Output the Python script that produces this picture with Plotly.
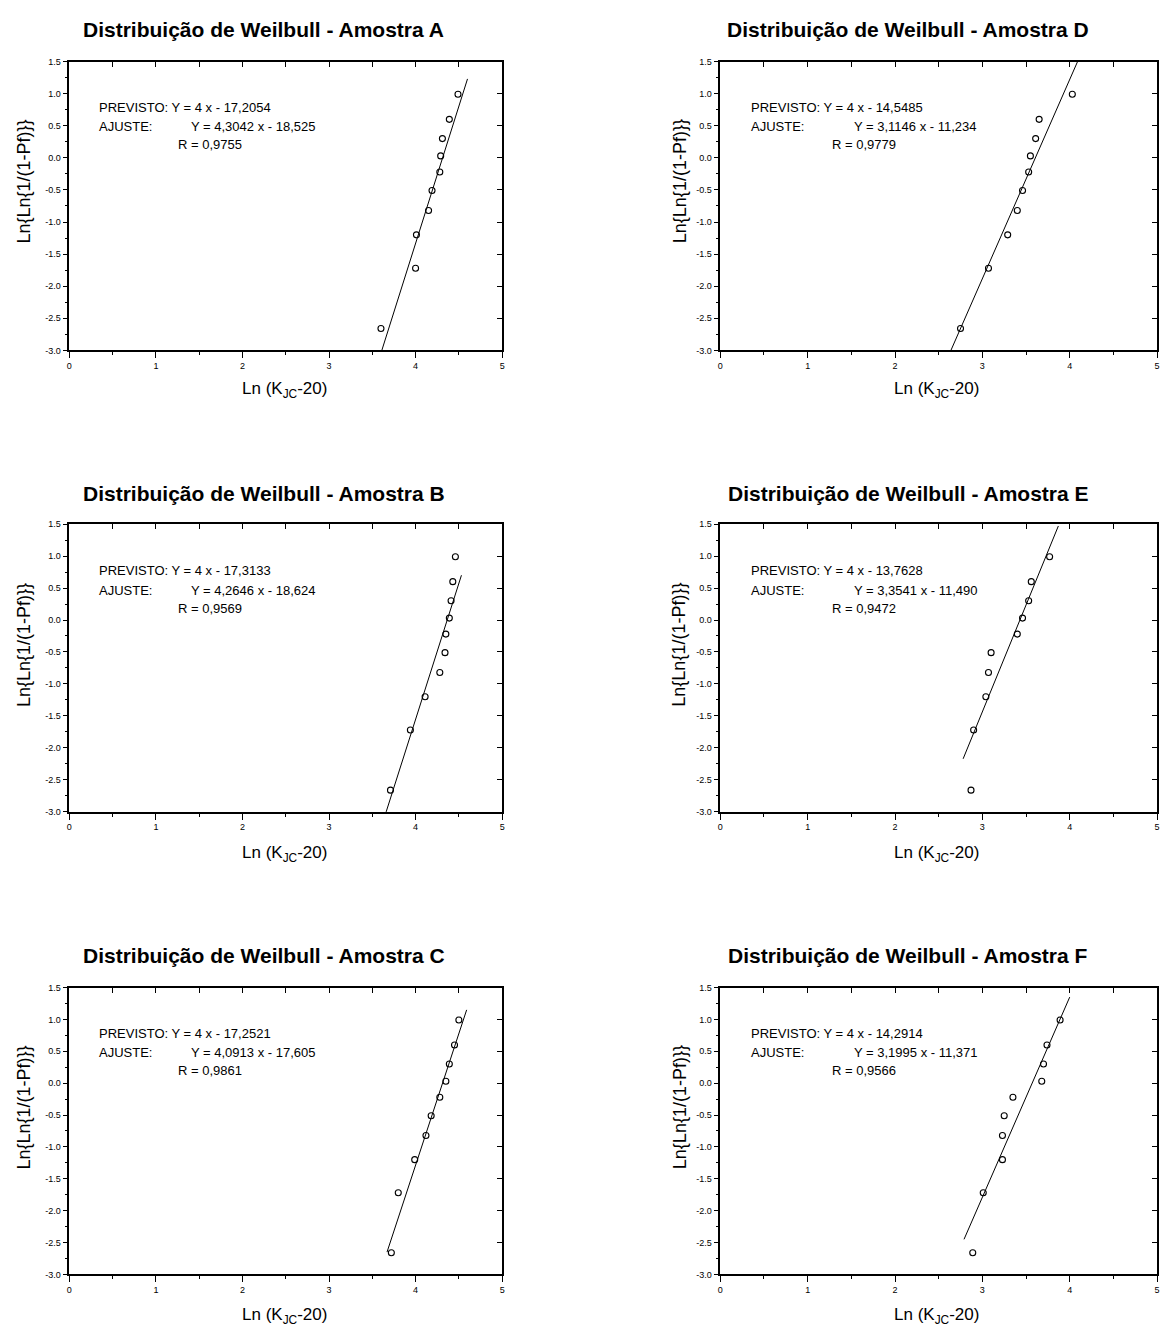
import plotly.graph_objects as go

# ---------------- data ----------------
samples = ["A", "B", "C", "D", "E", "F"]

# y values of the ranked points, Ln{Ln{1/(1-Pf)}}
y_rank = [-2.66, -1.72, -1.20, -0.82, -0.51, -0.22, 0.03, 0.30, 0.60, 0.99]

x_A = [3.60, 4.00, 4.01, 4.15, 4.19, 4.28, 4.29, 4.31, 4.39, 4.49]
x_B = [3.71, 3.94, 4.11, 4.28, 4.34, 4.35, 4.39, 4.41, 4.43, 4.46]
x_C = [3.72, 3.80, 3.99, 4.12, 4.18, 4.28, 4.35, 4.39, 4.45, 4.50]
x_D = [2.75, 3.07, 3.29, 3.40, 3.46, 3.53, 3.55, 3.61, 3.65, 4.03]
x_E = [2.87, 2.90, 3.04, 3.07, 3.10, 3.40, 3.46, 3.53, 3.56, 3.77]
x_F = [2.89, 3.01, 3.23, 3.23, 3.25, 3.35, 3.68, 3.70, 3.74, 3.89]

# fitted line end points
fit_x_A, fit_y_A = [3.61, 4.60], [-3.00, 1.23]
fit_x_B, fit_y_B = [3.66, 4.53], [-3.00, 0.70]
fit_x_C, fit_y_C = [3.67, 4.59], [-2.65, 1.15]
fit_x_D, fit_y_D = [2.64, 4.09], [-3.00, 1.50]
fit_x_E, fit_y_E = [2.78, 3.87], [-2.17, 1.47]
fit_x_F, fit_y_F = [2.79, 4.00], [-2.45, 1.35]

previsto = ["Y = 4 x - 17,2054", "Y = 4 x - 17,3133", "Y = 4 x - 17,2521",
            "Y = 4 x - 14,5485", "Y = 4 x - 13,7628", "Y = 4 x - 14,2914"]
ajuste = ["Y = 4,3042 x - 18,525", "Y = 4,2646 x - 18,624", "Y = 4,0913 x - 17,605",
          "Y = 3,1146 x - 11,234", "Y = 3,3541 x - 11,490", "Y = 3,1995 x - 11,371"]
r_vals = ["R = 0,9755", "R = 0,9569", "R = 0,9861",
          "R = 0,9779", "R = 0,9472", "R = 0,9566"]

x_tickvals = [0, 1, 2, 3, 4, 5]
x_ticktext = ["0", "1", "2", "3", "4", "5"]
y_tickvals = [-3.0, -2.5, -2.0, -1.5, -1.0, -0.5, 0.0, 0.5, 1.0, 1.5]
y_ticktext = ["-3.0", "-2.5", "-2.0", "-1.5", "-1.0", "-0.5", "0.0", "0.5", "1.0", "1.5"]

title_fmt = "Distribuição de Weilbull - Amostra {}"
x_title = "Ln (K<sub>JC</sub>-20)"
y_title = "Ln{Ln{1/(1-Pf)}}"

xs = [x_A, x_B, x_C, x_D, x_E, x_F]
fxs = [fit_x_A, fit_x_B, fit_x_C, fit_x_D, fit_x_E, fit_x_F]
fys = [fit_y_A, fit_y_B, fit_y_C, fit_y_D, fit_y_E, fit_y_F]

# ---------------- layout geometry (pixels) ----------------
W, H = 1172, 1330
col_px = [(66.7, 501.7), (721.0, 1160.0)]
row_px = [(57.0, 348.0), (523.0, 813.0), (990.0, 1279.0)]
row_off = [0, 467, 933]
panel_pos = [(0, 0), (0, 1), (0, 2), (1, 0), (1, 1), (1, 2)]  # (col,row)

FONT = "Liberation Sans, Arial, sans-serif"


def px_x(p):
    return p / W


def px_y(p):
    return 1 - p / H


fig = go.Figure()
layout = dict(width=W, height=H, margin=dict(l=0, r=0, t=0, b=0),
              paper_bgcolor="white", plot_bgcolor="white", showlegend=False,
              font=dict(family=FONT, color="black"))
annotations = []

for i, s in enumerate(samples):
    n = i + 1
    c, r = panel_pos[i]
    xk = "x" if n == 1 else f"x{n}"
    yk = "y" if n == 1 else f"y{n}"
    xo, yo = f"x{n + 6}", f"y{n + 6}"

    fig.add_trace(go.Scatter(x=fxs[i], y=fys[i], mode="lines",
                             line=dict(color="black", width=1),
                             xaxis=xk, yaxis=yk, hoverinfo="skip"))
    fig.add_trace(go.Scatter(x=xs[i], y=y_rank, mode="markers",
                             marker=dict(symbol="circle-open", size=6, color="black",
                                         line=dict(width=1.1, color="black")),
                             xaxis=xk, yaxis=yk))
    fig.add_trace(go.Scatter(x=[None], y=[None], mode="markers", xaxis=xo, yaxis=yo,
                             hoverinfo="skip"))

    x0, x1 = col_px[c]
    y0, y1 = row_px[r]
    common = dict(showgrid=False, zeroline=False, color="black")
    layout[f"xaxis{'' if n == 1 else n}"] = dict(
        domain=[px_x(x0), px_x(x1)], anchor=yk, range=[0, 5],
        tickmode="array", tickvals=x_tickvals, ticktext=x_ticktext,
        ticks="outside", ticklen=6, tickwidth=1, tickcolor="black",
        showline=True, linewidth=1.5, linecolor="black", mirror=True,
        tickfont=dict(size=9, family=FONT),
        minor=dict(tickmode="linear", tick0=0, dtick=0.5, ticks="outside",
                   ticklen=3, tickwidth=1, tickcolor="black", showgrid=False),
        **common)
    layout[f"yaxis{'' if n == 1 else n}"] = dict(
        domain=[px_y(y1), px_y(y0)], anchor=xk, range=[-3, 1.5],
        tickmode="array", tickvals=y_tickvals, ticktext=y_ticktext,
        ticks="outside", ticklen=5, tickwidth=1, tickcolor="black",
        showline=True, linewidth=1.5, linecolor="black", mirror=True,
        tickfont=dict(size=9, family=FONT),
        minor=dict(tickmode="linear", tick0=0, dtick=0.25, ticks="outside",
                   ticklen=3, tickwidth=1, tickcolor="black", showgrid=False),
        **common)
    layout[f"xaxis{n + 6}"] = dict(
        overlaying=xk, side="top", anchor=yk, range=[0, 5],
        tickmode="linear", tick0=0, dtick=0.5, ticks="inside", ticklen=5,
        tickwidth=1, tickcolor="black", showticklabels=False, showline=False,
        **common)
    layout[f"yaxis{n + 6}"] = dict(
        overlaying=yk, side="right", anchor=xk, range=[-3, 1.5],
        tickmode="linear", tick0=0, dtick=0.5, ticks="inside", ticklen=5,
        tickwidth=1, tickcolor="black", showticklabels=False, showline=False,
        **common)

    ro = row_off[r]
    if c == 0:
        tx, lx, ax2, rx, ytx, xtx = 262, 94, 187, 174, 21, 283
    else:
        tx, lx, ax2, rx, ytx, xtx = 910, 750, 853, 831, 680, 938

    def ann(text, x, y, size, anchor="left", angle=0):
        annotations.append(dict(text=text, x=px_x(x), y=px_y(y), xref="paper",
                                yref="paper", showarrow=False, xanchor=anchor,
                                yanchor="middle", textangle=angle,
                                font=dict(size=size, family=FONT, color="black")))

    ann("<b>" + title_fmt.format(s) + "</b>", tx, 25 + ro, 21, "center")
    ann("PREVISTO: " + previsto[i], lx, 103 + ro, 13)
    ann("AJUSTE:", lx, 122.5 + ro, 13)
    ann(ajuste[i], ax2, 122.5 + ro, 13)
    ann(r_vals[i], rx, 141 + ro, 13)
    ann(y_title, ytx, 178 + ro, 18, "center", -90)
    ann(x_title, xtx, 388 + ro, 17, "center")

layout["annotations"] = annotations
fig.update_layout(**layout)

fig.write_html("out.html", config={"displayModeBar": False},
               post_script="document.body.style.margin='0';")
